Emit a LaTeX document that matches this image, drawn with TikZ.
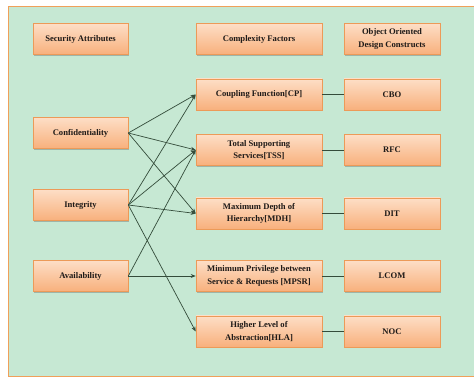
\documentclass[tikz,border=0pt]{standalone}
\usepackage{fontspec}
\setmainfont{Liberation Serif}
\usetikzlibrary{arrows.meta,shadows}
\definecolor{bgmint}{RGB}{198,232,211}
\definecolor{frameor}{RGB}{240,160,90}
\definecolor{boxtop}{RGB}{253,222,198}
\definecolor{boxbot}{RGB}{248,176,124}
\definecolor{boxline}{RGB}{236,154,88}
\definecolor{linkcol}{RGB}{52,76,58}
\definecolor{txtcol}{RGB}{30,26,24}
\tikzset{
  box/.style={draw=boxline, line width=0.6pt, top color=boxtop, bottom color=boxbot,
    minimum height=31pt, inner sep=1pt, align=center,
    font=\fontsize{8.6}{12.5}\selectfont\bfseries, text=txtcol,
    drop shadow={shadow xshift=1pt, shadow yshift=-1.5pt, opacity=0.4, fill=black!60}},
  lbox/.style={box, minimum width=95pt},
  mbox/.style={box, minimum width=126pt},
  rbox/.style={box, minimum width=96pt},
  link/.style={draw=linkcol, line width=0.7pt},
  arr/.style={link, -{Stealth[length=5pt,width=4pt]}}
}
\begin{document}
\begin{tikzpicture}[x=1pt,y=1pt]
\useasboundingbox (0,0) rectangle (474,-379);
\fill[white] (0,0) rectangle (474,-379);
\fill[bgmint] (8,-6) rectangle (476,-377);
\draw[frameor, line width=1.8pt] (476,-6.5) -- (8.5,-6.5) -- (8.5,-376.5) -- (476,-376.5);
% headers
\node[lbox] (sa) at (80.5,-39) {Security Attributes};
\node[mbox] (cf) at (259,-39) {Complexity Factors};
\node[rbox] (oo) at (392,-39) {Object Oriented\\Design Constructs};
% left column
\node[lbox] (conf) at (80.5,-133) {Confidentiality};
\node[lbox] (integ) at (80.5,-205) {Integrity};
\node[lbox] (avail) at (80.5,-276) {Availability};
% middle column
\node[mbox] (cp) at (259,-94.5) {Coupling Function[CP]};
\node[mbox] (tss) at (259,-150) {Total Supporting\\Services[TSS]};
\node[mbox] (mdh) at (259,-213.5) {Maximum Depth of\\Hierarchy[MDH]};
\node[mbox] (mpsr) at (259,-276) {Minimum Privilege between\\Service \& Requests [MPSR]};
\node[mbox] (hla) at (259,-331.5) {Higher Level of\\Abstraction[HLA]};
% right column
\node[rbox] (cbo) at (392,-94.5) {CBO};
\node[rbox] (rfc) at (392,-150) {RFC};
\node[rbox] (dit) at (392,-213.5) {DIT};
\node[rbox] (lcom) at (392,-276) {LCOM};
\node[rbox] (noc) at (392,-331.5) {NOC};
% arrows
\draw[arr] (conf.east) -- (cp.west);
\draw[arr] (conf.east) -- (tss.west);
\draw[arr] (conf.east) -- (mdh.west);
\draw[arr] (integ.east) -- (cp.west);
\draw[arr] (integ.east) -- (tss.west);
\draw[arr] (integ.east) -- (mdh.west);
\draw[arr] (integ.east) -- (hla.west);
\draw[arr] (avail.east) -- (tss.west);
\draw[arr] (avail.east) -- (mpsr.west);
% plain links
\draw[link] (cp.east) -- (cbo.west);
\draw[link] (tss.east) -- (rfc.west);
\draw[link] (mdh.east) -- (dit.west);
\draw[link] (mpsr.east) -- (lcom.west);
\draw[link] (hla.east) -- (noc.west);
\end{tikzpicture}
\end{document}
